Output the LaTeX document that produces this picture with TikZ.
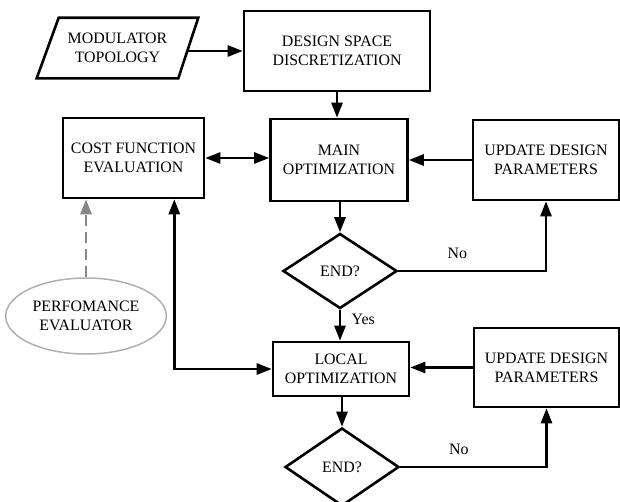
\documentclass[tikz,border=0pt]{standalone}
\usepackage{fontspec}
\setmainfont{Liberation Serif}
\usetikzlibrary{arrows.meta, shapes.geometric}
\definecolor{dashgray}{RGB}{136,136,136}
\definecolor{ellgray}{RGB}{176,176,176}

\begin{document}
\begin{tikzpicture}[x=1pt, y=-1pt, line width=2.6pt,
        font=\fontsize{15.9}{19}\selectfont,
        >={Triangle[length=15pt,width=11pt]},
        box/.style={draw, rectangle, align=center, inner sep=0pt},
        decision/.style={draw, diamond, inner sep=0pt}]
                \useasboundingbox (0,0) rectangle (620,501);

                % Upper loop:
                \node[minimum width=139, minimum height=58, inner sep=0pt, align=center] (topo) at (117.5,48) {MODULATOR\\TOPOLOGY};
                \draw ([xshift=-10pt]topo.south west) -- ([xshift=-10pt]topo.south east)
                      -- ([xshift=10pt]topo.north east) -- ([xshift=12pt]topo.north west) -- cycle;
                \node[box, minimum width=186, minimum height=80] (design) at (337,51) {DESIGN SPACE\\DISCRETIZATION};
                \node[box, minimum width=137, minimum height=82] (main) at (339,160) {MAIN\\OPTIMIZATION};
                \node[box, minimum width=141, minimum height=80] (cost) at (133.5,158) {COST FUNCTION\\EVALUATION};
                \node[box, minimum width=146, minimum height=80] (upd1) at (546,160) {UPDATE DESIGN\\PARAMETERS};
                \node[decision, minimum width=114, minimum height=75] (end1) at (340,271) {END?};
                \node[draw=ellgray, ellipse, line width=1.5pt, minimum width=139, minimum height=76, align=center] (perf) at (86,316) {PERFOMANCE\\EVALUATOR};

                % Lower loop:
                \node[box, minimum width=136, minimum height=54] (local) at (341,369) {LOCAL\\OPTIMIZATION};
                \node[box, minimum width=145, minimum height=79] (upd2) at (546.5,367.5) {UPDATE DESIGN\\PARAMETERS};
                \node[decision, minimum width=114, minimum height=78] (end2) at (342,467) {END?};

                % Connectors:
                \draw[->] ([yshift=-3pt]topo.east) -- ([yshift=-3pt]topo.east -| design.west);
                \draw[->] (design.south) -- (design.south |- main.north);
                \draw[<->] (cost.east) -- (cost.east -| main.west);
                \draw[->] (upd1.west) -- (upd1.west -| main.east);
                \draw[->] (main.south -| end1.north) -- (end1.north);
                \draw[->] (end1.east) -| node[pos=0.2, above=8pt] {No} (upd1.south);
                \draw[->] (end1.south) -- node[pos=0.3, right=7pt] {Yes} (end1.south |- local.north);
                \draw[->] (upd2.west) -- (upd2.west -| local.east);
                \draw[->] (local.south -| end2.north) -- (end2.north);
                \draw[->] (end2.east) -| node[pos=0.2, above=8pt] {No} (upd2.south);
                \draw[<->] (local.west) -| ([xshift=-31pt]cost.south east);
                \draw[->, dashgray, dash pattern=on 11pt off 6pt] (perf.north) -- (perf.north |- cost.south);
            \end{tikzpicture}
\end{document}
